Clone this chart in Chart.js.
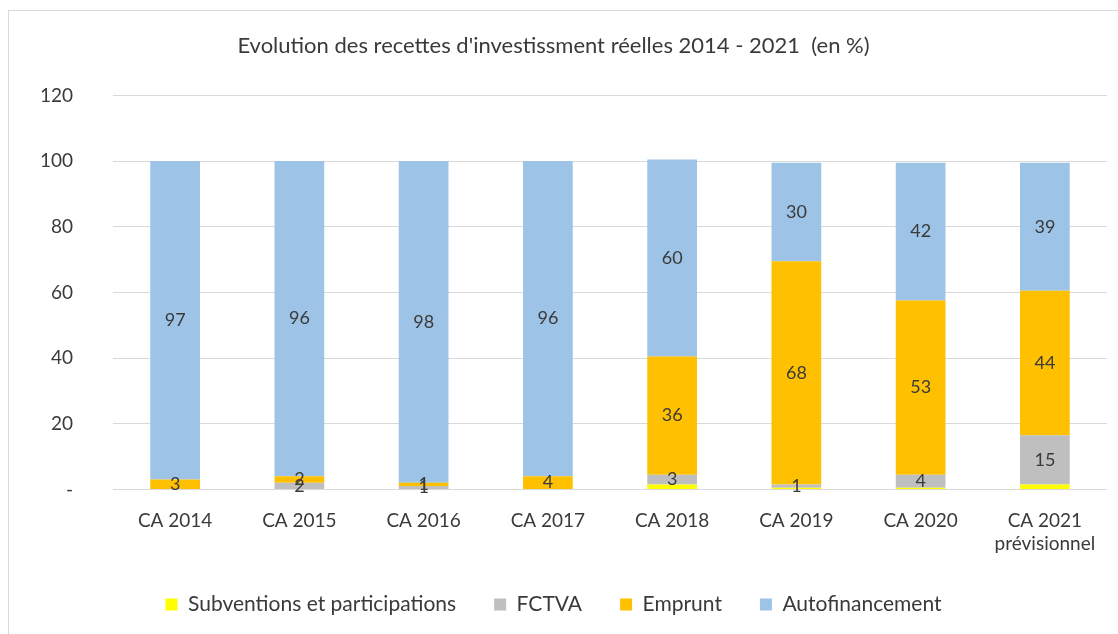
<!DOCTYPE html>
<html>
<head>
<meta charset="utf-8">
<script src="https://cdn.jsdelivr.net/npm/chart.js@4/dist/chart.umd.min.js"></script>
<style>
  body { margin: 0; background: #fff; }
  #cadre { position: absolute; left: 8px; top: 10px; width: 1120px; height: 640px; border: 1px solid #d9d9d9; }
  #zone { position: absolute; left: 0; top: 0; width: 1118px; height: 634px; }
</style>
</head>
<body>
<div id="cadre"></div>
<div id="zone"><canvas id="graphique"></canvas></div>
<script>
const annees = ['CA 2014', 'CA 2015', 'CA 2016', 'CA 2017', 'CA 2018', 'CA 2019', 'CA 2020', ['CA 2021', 'prévisionnel']];
const subventions = [0, 0, 0, 0, 1.5, 0.5, 0.5, 1.5];
const fctva = [0, 2, 1, 0, 3, 1, 4, 15];
const emprunt = [3, 2, 1, 4, 36, 68, 53, 44];
const autofinancement = [97, 96, 98, 96, 60, 30, 42, 39];
const graduations = [0, 20, 40, 60, 80, 100, 120];

const texte = '#3a3a3a';
const police = 'Lato, "Open Sans", sans-serif';

// étiquettes de valeurs au centre de chaque segment
const etiquettes = {
    id: 'etiquettes',
    afterDatasetsDraw(chart) {
        const ctx = chart.ctx;
        ctx.save();
        ctx.font = '18px ' + police;
        ctx.fillStyle = texte;
        ctx.textAlign = 'center';
        ctx.textBaseline = 'middle';
        chart.data.datasets.forEach((ds, i) => {
            if (ds.sansEtiquette) return;
            chart.getDatasetMeta(i).data.forEach((bar, j) => {
                const v = ds.data[j];
                if (!v) return;
                const p = bar.getProps(['x', 'y', 'base'], true);
                ctx.fillText(String(v), p.x, (p.y + p.base) / 2);
            });
        });
        ctx.restore();
    }
};

const ctx = document.getElementById('graphique').getContext('2d');
new Chart(ctx, {
    type: 'bar',
    data: {
        labels: annees,
        datasets: [
            { label: 'Subventions et participations', data: subventions, backgroundColor: '#ffff00', sansEtiquette: true },
            { label: 'FCTVA', data: fctva, backgroundColor: '#bfbfbf' },
            { label: 'Emprunt', data: emprunt, backgroundColor: '#ffc000' },
            { label: 'Autofinancement', data: autofinancement, backgroundColor: '#9dc3e6' }
        ]
    },
    options: {
        responsive: true,
        maintainAspectRatio: false,
        animation: false,
        datasets: { bar: { barPercentage: 0.8, categoryPercentage: 0.5 } },
        layout: { padding: { left: 0, right: 11, top: 0, bottom: 9 } },
        scales: {
            x: {
                stacked: true,
                afterFit: s => { s.height -= 11; },
                grid: { display: false },
                border: { display: false },
                ticks: { color: texte, font: { size: 19, family: police }, padding: 12 }
            },
            y: {
                stacked: true,
                min: 0,
                max: 120,
                afterFit: s => { s.width = 113; },
                afterBuildTicks: s => { s.ticks = graduations.map(v => ({ value: v })); },
                grid: { color: '#d9d9d9', drawTicks: false },
                border: { display: false },
                ticks: {
                    color: texte,
                    font: { size: 19, family: police },
                    padding: 40,
                    callback: v => v === 0 ? '-' : v
                }
            }
        },
        plugins: {
            title: {
                display: true,
                text: "Evolution des recettes d'investissment réelles 2014 - 2021  (en %)",
                color: texte,
                font: { size: 22, weight: 'normal', family: police },
                padding: { top: 33, bottom: 36 }
            },
            legend: {
                display: true,
                position: 'bottom',
                labels: {
                    color: texte,
                    font: { size: 21, family: police },
                    boxWidth: 12,
                    boxHeight: 12,
                    padding: 38
                }
            },
            tooltip: { enabled: false }
        }
    },
    plugins: [etiquettes]
});
</script>
</body>
</html>
